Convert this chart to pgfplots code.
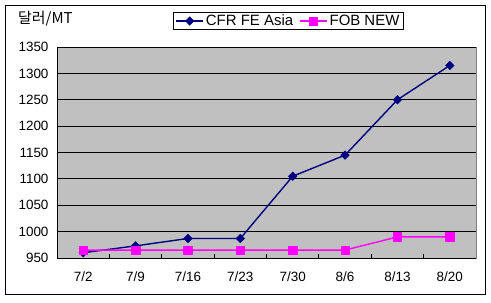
\documentclass[border=0pt]{standalone}
\usepackage{fontspec}
\setmainfont{Liberation Sans}
\newfontfamily\kr{Noto Sans CJK KR}
\usepackage{pgfplots}
\pgfplotsset{compat=1.18}
\definecolor{plotgray}{RGB}{192,192,192}
\definecolor{bordergray}{RGB}{128,128,128}
\definecolor{navy}{RGB}{0,0,128}
\definecolor{mag}{RGB}{255,0,255}
\begin{document}
\begin{tikzpicture}[x=1bp,y=1bp]
\path[use as bounding box] (0,0) rectangle (491,302);
\draw[black, line width=0.9bp] (5,8) rectangle (485,297);
\node[anchor=west, font=\kr\fontsize{15}{17}\selectfont, inner sep=0] at (18,283) {달러/MT};
\begin{axis}[
  at={(57bp,44bp)}, anchor=south west,
  scale only axis, width=419bp, height=211bp,
  xmin=-0.5, xmax=7.5, ymin=950, ymax=1350,
  ytick={950,1000,...,1350},
  xtick={0,...,7},
  xticklabels={7/2,7/9,7/16,7/23,7/30,8/6,8/13,8/20},
  minor xtick={0.5,1.5,...,6.5},
  major tick length=0pt,
  minor tick length=4bp,
  tick align=inside,
  ymajorgrids, grid style={black, line width=0.8bp},
  axis background/.style={fill=plotgray, draw=bordergray, line width=1bp},
  axis lines*=left,
  axis line style={black, line width=1bp, -},
  tick style={black, line width=0.8bp},
  ticklabel style={font=\fontsize{13.5}{15}\selectfont},
  /pgf/number format/assume math mode=true,
  /pgf/number format/1000 sep={},
  xticklabel style={yshift=-10bp},
  yticklabel style={xshift=-5bp},
  legend style={at={(0.277,1.166)}, anchor=north west, legend columns=2,
    draw=black, line width=0.8bp, font=\fontsize{15}{17}\selectfont,
    inner xsep=2bp, inner ysep=0.5bp, row sep=0pt,
    /tikz/every even column/.append style={column sep=4bp}},
  legend image code/.code={\draw[mark repeat=2,mark phase=2,#1] plot coordinates {(0bp,0bp) (13.5bp,0bp) (27bp,0bp)};},
  legend image post style={line width=1.5bp},
  clip=false,
]
\addplot[navy, line width=1.4bp, mark=square*, mark size=3bp, mark options={fill=navy, draw=navy, rotate=45, line width=0.5bp}]
  coordinates {(0,960) (1,973) (2,987) (3,987) (4,1105) (5,1145) (6,1250) (7,1315)};
\addlegendentry{CFR FE Asia}
\addplot[mag, line width=1.4bp, mark=square*, mark size=4.2bp, mark options={fill=mag, draw=mag, line width=0.5bp}]
  coordinates {(0,965) (1,965) (2,965) (3,965) (4,965) (5,965) (6,990) (7,990)};
\addlegendentry{FOB NEW}
\end{axis}
\end{tikzpicture}
\end{document}
